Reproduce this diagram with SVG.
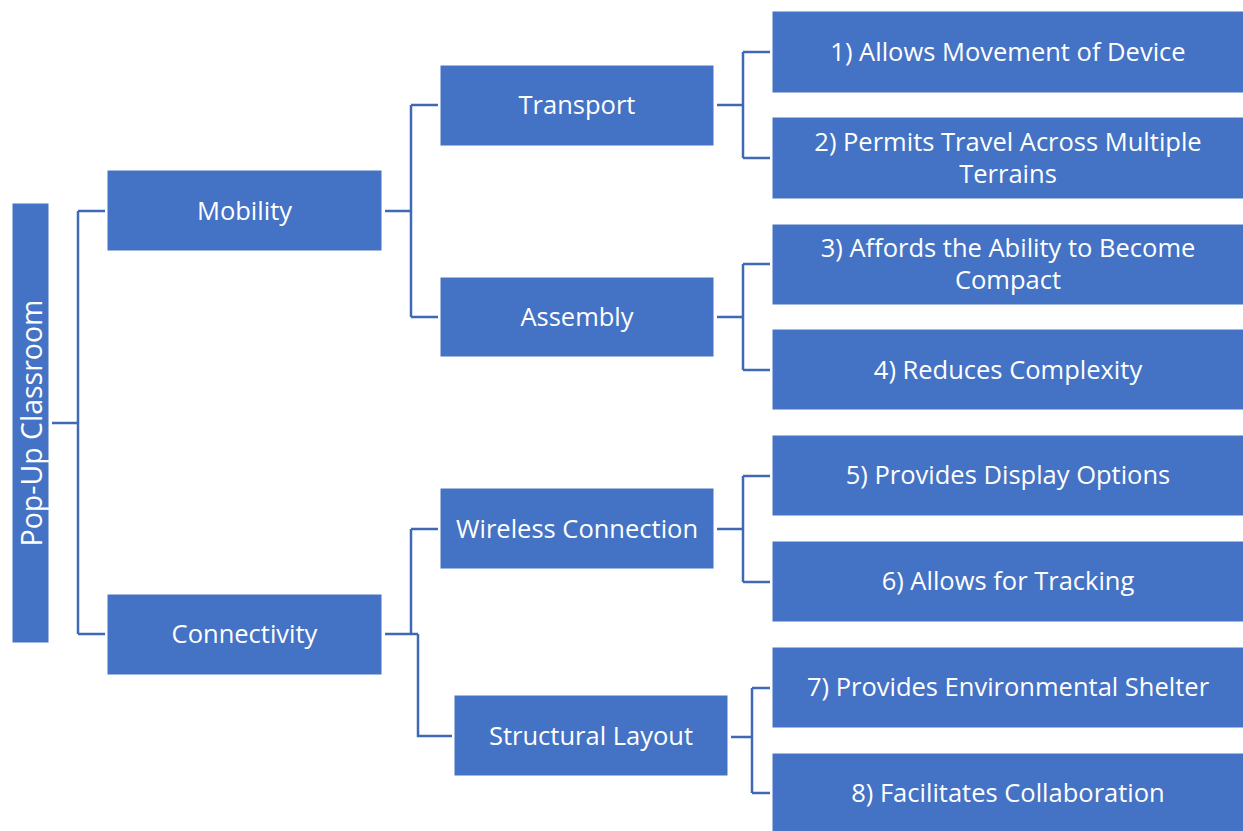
<svg xmlns="http://www.w3.org/2000/svg" width="1243" height="831" viewBox="0 0 1243 831">
<style>
.box{fill:#4472C4;stroke:#ffffff;stroke-width:1}
.t{fill:#ffffff;font-family:"Open Sans","Noto Sans",sans-serif;font-size:25.5px;text-anchor:middle;dominant-baseline:central}
.r{font-size:28.5px}
.c{fill:none;stroke:#3F69B5;stroke-width:2.5}
</style>
<rect width="1243" height="831" fill="#ffffff"/>
<g id="connectors">
<path class="c" d="M52,423 H78 M78,211 V634 M78,211 H105 M78,634 H105"/>
<path class="c" d="M385,211 H411 M411,105 V317 M411,105 H438 M411,317 H438"/>
<path class="c" d="M385,634 H418 M411,529 V634 M411,529 H438 M418,634 V736 H452"/>
<path class="c" d="M717,105 H743 M743,52 V158 M743,52 H770 M743,158 H770"/>
<path class="c" d="M717,317 H743 M743,264 V370 M743,264 H770 M743,370 H770"/>
<path class="c" d="M717,529 H743 M743,476 V582 M743,476 H770 M743,582 H770"/>
<path class="c" d="M731,737 H752 M752,688 V793 M752,688 H770 M752,793 H770"/>
</g>
<g id="root"><rect class="box" x="12" y="203" width="37" height="440"/><text class="t r" transform="translate(31,423) rotate(-90)">Pop-Up Classroom</text></g>
<g id="mobility"><rect class="box" x="107" y="170" width="275" height="81"/><text class="t" x="244.5" y="210">Mobility</text></g>
<g id="connectivity"><rect class="box" x="107" y="594" width="275" height="81"/><text class="t" x="244.5" y="633">Connectivity</text></g>
<g id="transport"><rect class="box" x="440" y="65" width="274" height="81"/><text class="t" x="577" y="104">Transport</text></g>
<g id="assembly"><rect class="box" x="440" y="277" width="274" height="80"/><text class="t" x="577" y="316">Assembly</text></g>
<g id="wireless"><rect class="box" x="440" y="488" width="274" height="81"/><text class="t" x="577" y="528">Wireless Connection</text></g>
<g id="structural"><rect class="box" x="454" y="695" width="274" height="81"/><text class="t" x="591" y="735">Structural Layout</text></g>
<g id="leaf1"><rect class="box" x="772" y="11" width="472" height="82"/><text class="t" x="1008" y="51">1) Allows Movement of Device</text></g>
<g id="leaf2"><rect class="box" x="772" y="117" width="472" height="82"/><text class="t" x="1008" y="141">2) Permits Travel Across Multiple</text><text class="t" x="1008" y="173">Terrains</text></g>
<g id="leaf3"><rect class="box" x="772" y="224" width="472" height="81"/><text class="t" x="1008" y="247">3) Affords the Ability to Become</text><text class="t" x="1008" y="279">Compact</text></g>
<g id="leaf4"><rect class="box" x="772" y="329" width="472" height="81"/><text class="t" x="1008" y="369">4) Reduces Complexity</text></g>
<g id="leaf5"><rect class="box" x="772" y="435" width="472" height="81"/><text class="t" x="1008" y="474">5) Provides Display Options</text></g>
<g id="leaf6"><rect class="box" x="772" y="541" width="472" height="81"/><text class="t" x="1008" y="580">6) Allows for Tracking</text></g>
<g id="leaf7"><rect class="box" x="772" y="647" width="472" height="81"/><text class="t" x="1008" y="686">7) Provides Environmental Shelter</text></g>
<g id="leaf8"><rect class="box" x="772" y="753" width="472" height="79"/><text class="t" x="1008" y="792">8) Facilitates Collaboration</text></g>
</svg>
